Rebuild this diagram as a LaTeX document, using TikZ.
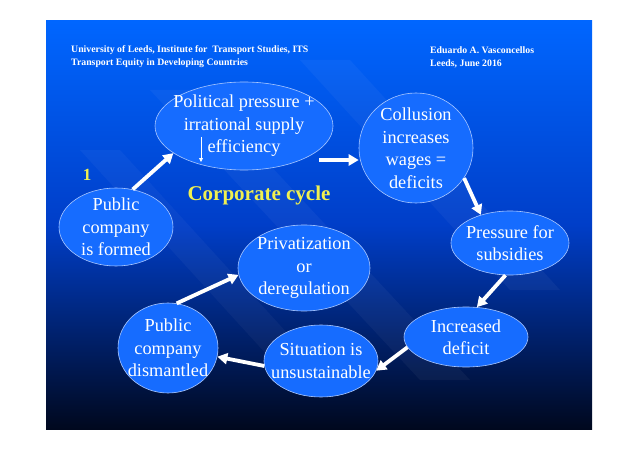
\documentclass[tikz,border=0pt]{standalone}
\usepackage{fontspec}
\setmainfont{Liberation Serif}
\usetikzlibrary{shapes.geometric,arrows.meta}
\definecolor{topblue}{RGB}{0,102,255}
\definecolor{midblue}{RGB}{0,62,200}
\definecolor{botblue}{RGB}{0,8,30}
\definecolor{ellfill}{RGB}{22,108,255}
\definecolor{ellline}{RGB}{170,200,255}
\definecolor{ylw}{RGB}{240,240,80}
\tikzset{
  bubble/.style={ellipse, draw=ellline, line width=0.6pt, fill=ellfill, inner sep=0pt},
  btext/.style={text=white, align=center, inner sep=0pt, font=\fontsize{18.3}{22.5}\selectfont},
  flow/.style={draw=white, line width=3.8pt, -{Triangle[length=10pt,width=11pt]}},
  hdr/.style={text=white, font=\fontsize{9.8}{13}\selectfont\bfseries, anchor=west, align=left, inner sep=0pt},
}
\begin{document}
\begin{tikzpicture}[x=1pt,y=-1pt]
\useasboundingbox (0,0) rectangle (638,452);
\fill[white] (0,0) rectangle (638,452);
% slide background
\shade[top color=topblue, bottom color=botblue, middle color=midblue] (46,21) rectangle (592,429);
\begin{scope}
\clip (46,21) rectangle (592,429);
\fill[white, opacity=0.04] (150,90) -- (200,90) -- (470,380) -- (420,380) -- cycle;
\fill[white, opacity=0.04] (300,60) -- (350,60) -- (560,290) -- (510,290) -- cycle;
\fill[white, opacity=0.035] (80,150) -- (120,150) -- (330,380) -- (290,380) -- cycle;
\end{scope}
% header
\node[hdr] (h1) at (71,57) {University of Leeds, Institute for\ \ Transport Studies, ITS\\Transport Equity in Developing Countries};
\node[hdr] (h2) at (430,57) {Eduardo A. Vasconcellos\\Leeds, June 2016};
% bubbles
\node[bubble, minimum width=178pt, minimum height=88pt] (pol) at (244,126) {};
\node[btext] (polt) at (pol.center) {Political pressure +\\irrational supply\\efficiency};
\node[bubble, minimum width=114pt, minimum height=110pt] (col) at (416,148) {};
\node[btext] (colt) at (col.center) {Collusion\\increases\\wages =\\deficits};
\node[bubble, minimum width=118pt, minimum height=64pt] (prs) at (510,243) {};
\node[btext] (prst) at (prs.center) {Pressure for\\subsidies};
\node[bubble, minimum width=124pt, minimum height=60pt] (inc) at (466,337) {};
\node[btext] (inct) at (inc.center) {Increased\\deficit};
\node[bubble, minimum width=114pt, minimum height=72pt] (sit) at (321,361) {};
\node[btext] (sitt) at (sit.center) {Situation is\\unsustainable};
\node[bubble, minimum width=100pt, minimum height=90pt] (dis) at (168,348) {};
\node[btext] (dist) at (dis.center) {Public\\company\\dismantled};
\node[bubble, minimum width=132pt, minimum height=86pt] (pri) at (304,268) {};
\node[btext] (prit) at (pri.center) {Privatization\\or\\deregulation};
\node[bubble, minimum width=114pt, minimum height=78pt] (pub) at (116,227) {};
\node[btext] (pubt) at (pub.center) {Public\\company\\is formed};
% labels
\node[text=ylw, font=\fontsize{17}{18}\selectfont\bfseries] (one) at (87,175) {1};
\node[text=ylw, font=\fontsize{21}{24}\selectfont\bfseries] (title) at (259,195) {Corporate cycle};
% small arrow inside
\coordinate (sa1) at (201,137);
\coordinate (sa2) at (201,162);
\draw[white, line width=0.8pt, -{Triangle[length=4pt,width=4pt]}] (sa1) -- (sa2);
% flow arrows
\draw[flow] (pub.66) -- (pol.-159);
\coordinate (a2s) at (319,160);
\coordinate (a2e) at (359,160);
\draw[flow] (a2s) -- (col.west |- a2e);
\draw[flow] (col.-32) -- (prs.136);
\draw[flow] (prs.-98) -- (inc.70);
\draw[flow] (inc.-170) -- (sit.-10);
\draw[flow] (sit.-175) -- (dis.-10);
\draw[flow] (dis.79) -- (pri.-174);
\end{tikzpicture}
\end{document}
